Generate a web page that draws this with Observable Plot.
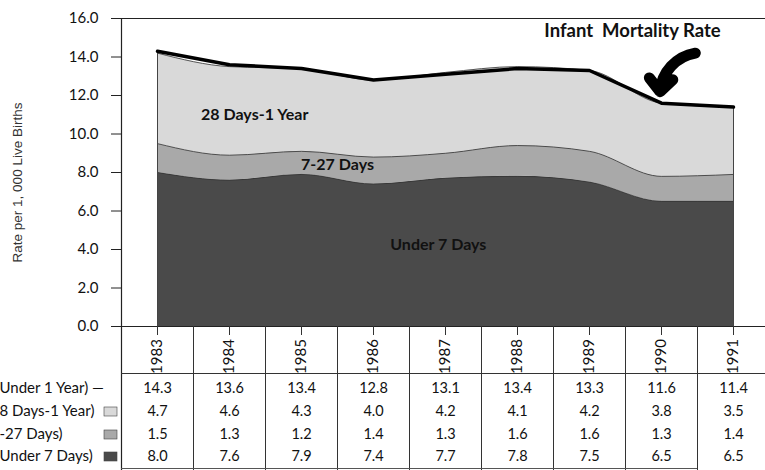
<!DOCTYPE html>
<html><head><meta charset="utf-8">
<script src="https://cdn.jsdelivr.net/npm/d3@7"></script>
<script src="https://cdn.jsdelivr.net/npm/@observablehq/plot@0.6"></script>
<style>
html,body{margin:0;padding:0;background:#fff;}
#chart{width:765px;height:470px;overflow:hidden;}
</style></head><body><div id="chart"></div>
<script>
// ---- data ----
const years = [1983, 1984, 1985, 1986, 1987, 1988, 1989, 1990, 1991];
const under1Year = [14.3, 13.6, 13.4, 12.8, 13.1, 13.4, 13.3, 11.6, 11.4];
const days28to1Year = [4.7, 4.6, 4.3, 4.0, 4.2, 4.1, 4.2, 3.8, 3.5];
const days7to27 = [1.5, 1.3, 1.2, 1.4, 1.3, 1.6, 1.6, 1.3, 1.4];
const under7Days = [8.0, 7.6, 7.9, 7.4, 7.7, 7.8, 7.5, 6.5, 6.5];
const layerNames = ["Under 7 Days", "7-27 Days", "28 Days-1 Year"];
const rowLabels = ["Under 1 Year) \u2014", "8 Days-1 Year)", "-27 Days)", "Under 7 Days)"];
const yTicks = [0, 2, 4, 6, 8, 10, 12, 14, 16];
const titleText = "Infant  Mortality Rate";
const yLabelText = "Rate per 1, 000 Live Births";

// ---- layout ----
const W = 765, H = 470;
const xDomain = [1983, 1991], xRange = [157, 733];
const yDomain = [0, 16], yRange = [326, 18];
const X = d3.scaleLinear(xDomain, xRange), Y = d3.scaleLinear(yDomain, yRange);
const yBottom = Y.invert(H);
const rowPx = [388, 411, 434, 456];

const layerValues = [under7Days, days7to27, days28to1Year];
const stackData = layerNames.flatMap((name, k) => years.map((year, i) => ({year, layer: name, value: layerValues[k][i]})));
const totalData = years.map((year, i) => ({year, value: under1Year[i]}));
const tableSeries = [under1Year, days28to1Year, days7to27, under7Days];
const tableData = tableSeries.flatMap((vals, r) => years.map((year, i) => ({year, row: r, value: vals[i]})));
const swatches = [{row: 1, layer: "28 Days-1 Year"}, {row: 2, layer: "7-27 Days"}, {row: 3, layer: "Under 7 Days"}];
const areaLabels = [
  {text: "28 Days-1 Year", x: 1984.35, y: 11.0},
  {text: "7-27 Days", x: 1985.5, y: 8.4},
  {text: "Under 7 Days", x: 1986.9, y: 4.25}
];
const i1990 = years.indexOf(1990);

const chart = Plot.plot({
  width: W, height: H,
  marginLeft: 121, marginRight: 0, marginTop: 18, marginBottom: H - 326,
  x: {domain: xDomain, range: xRange, axis: null},
  y: {domain: yDomain, range: yRange},
  color: {domain: layerNames, range: ["#4a4a4a", "#a9a9a9", "#d9d9d9"]},
  style: {fontFamily: "Lato, 'Open Sans', sans-serif", fontSize: "14px", color: "#111", background: "#fff"},
  marks: [
    Plot.areaY(stackData, {x: "year", y: "value", z: "layer", fill: "layer", order: layerNames, curve: "monotone-x"}),
    Plot.lineY(stackData, Plot.stackY2({x: "year", y: "value", z: "layer", order: layerNames, curve: "monotone-x", stroke: "#333", strokeWidth: 0.8})),
    Plot.ruleX([totalData[0], totalData[totalData.length - 1]], {x: "year", y1: 0, y2: "value", stroke: "#444", strokeWidth: 1}),
    Plot.lineY(totalData, {x: "year", y: "value", stroke: "#000", strokeWidth: 3.5}),
    Plot.ruleY([0, 16], {stroke: "#222", strokeWidth: 1}),
    Plot.axisY({ticks: yTicks, tickFormat: d => d.toFixed(1), tickSize: 10, tickPadding: 13, label: null, fontSize: 15, stroke: "#222"}),
    Plot.ruleX([1982.5], {y1: 16, y2: yBottom, stroke: "#222", strokeWidth: 1.2}),
    Plot.ruleX(years.slice(0, -1).map(y => y + 0.5), {y1: 0, y2: yBottom, stroke: "#333", strokeWidth: 1}),
    Plot.ruleX(years, {y1: 0, y2: Y.invert(335), stroke: "#333", strokeWidth: 1}),
    Plot.ruleY([Y.invert(373)], {x1: 1982.5, x2: 1991.5, stroke: "#333", strokeWidth: 1}),
    Plot.ruleY([Y.invert(468)], {x1: 1982.5, x2: 1990.5, stroke: "#555", strokeWidth: 1}),
    Plot.text(years, {x: d => d, y: () => Y.invert(356), text: d => String(d), rotate: -90, fontSize: 15}),
    Plot.text(tableData, {x: "year", y: d => Y.invert(rowPx[d.row]), text: d => d.value.toFixed(1), fontSize: 14.5}),
    Plot.text(rowLabels, {x: () => X.invert(-1), y: (d, i) => Y.invert(rowPx[i]), text: d => d, textAnchor: "start", fontSize: 15}),
    Plot.rect(swatches, {x1: () => X.invert(104), x2: () => X.invert(117), y1: d => Y.invert(rowPx[d.row] - 4), y2: d => Y.invert(rowPx[d.row] + 5), fill: "layer", stroke: "#444", strokeWidth: 0.6}),
    Plot.text(areaLabels, {x: "x", y: "y", text: "text", fontWeight: "bold", fontSize: 16, fill: "#111"}),
    Plot.text([titleText], {x: () => X.invert(632), y: () => Y.invert(31), text: d => d, fontWeight: "bold", fontSize: 18.5, fill: "#111"}),
    Plot.arrow([{year: 1990, value: under1Year[i1990]}], {
      x1: d => d.year + 0.47, y1: d => d.value + 2.6, x2: d => d.year - 0.02, y2: d => d.value + 0.6,
      bend: -38, stroke: "#000", strokeWidth: 11, headLength: 12, headAngle: 85, strokeLinejoin: "miter"
    }),
    Plot.text([yLabelText], {x: () => X.invert(17), y: () => Y.invert(182), text: d => d, rotate: -90, fontSize: 13.5, fontFamily: "'Liberation Sans', Arial, sans-serif", fill: "#333"})
  ]
});
document.getElementById("chart").appendChild(chart);
</script>
</body></html>
